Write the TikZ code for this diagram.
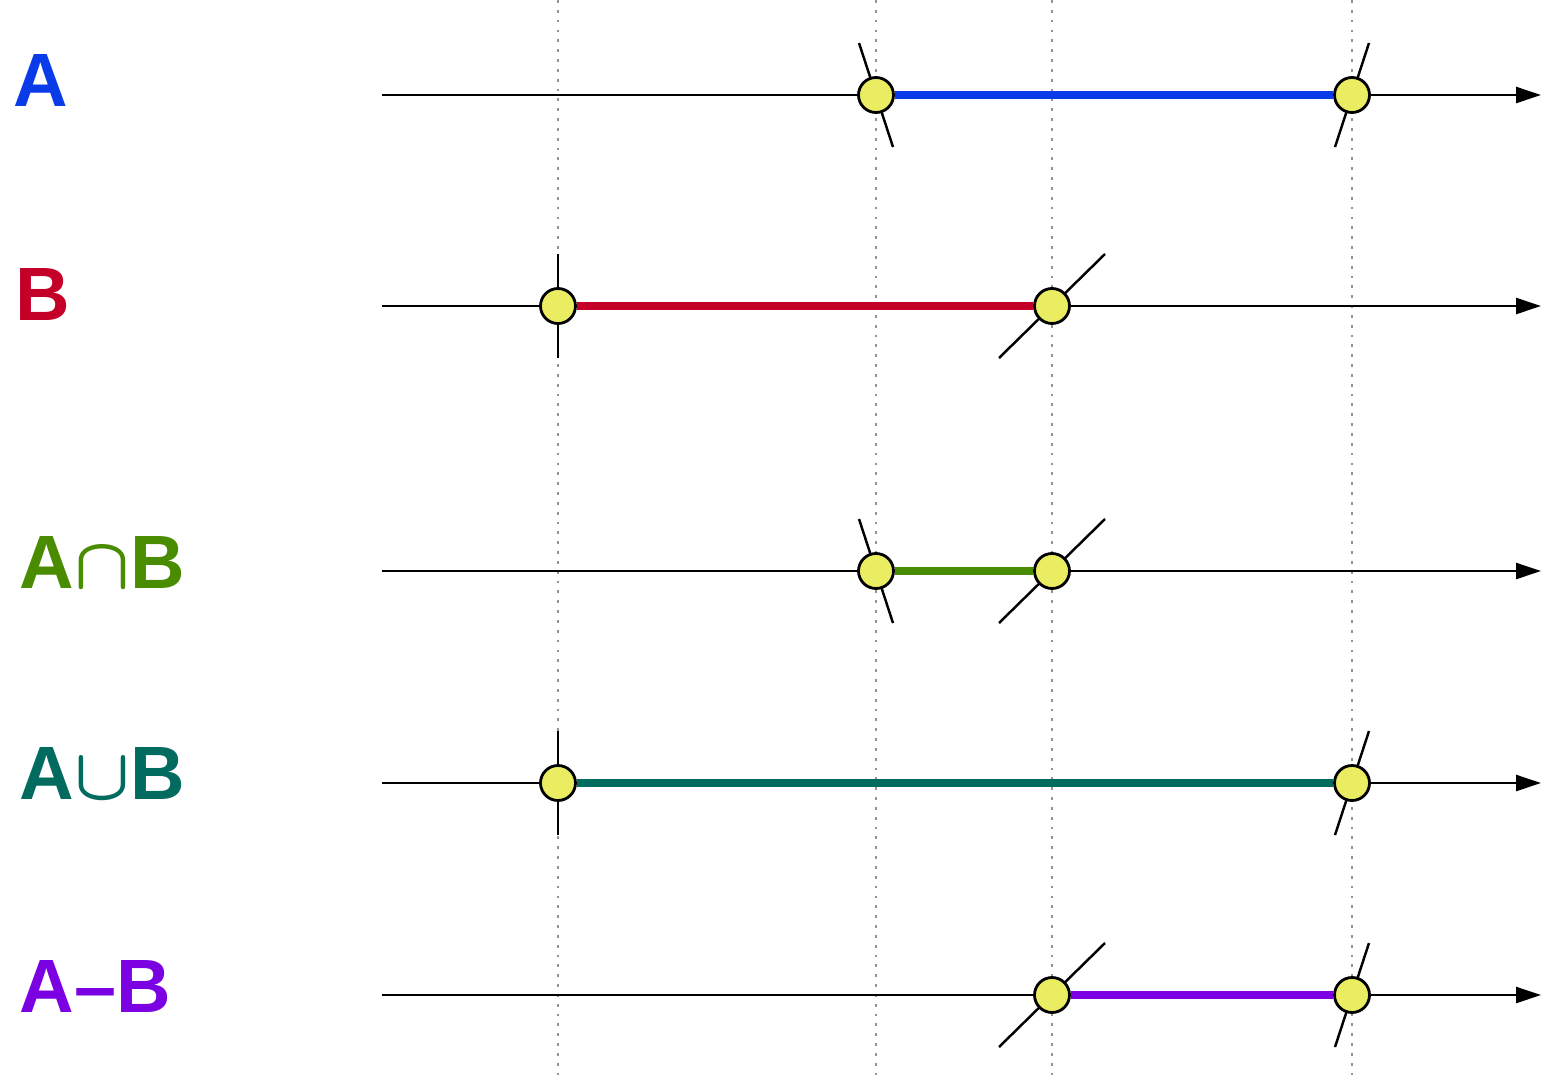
\documentclass[tikz,border=0pt]{standalone}
\usepackage{fontspec}
\setmainfont{Liberation Sans}
\usetikzlibrary{arrows.meta,calc,backgrounds}
\definecolor{setA}{HTML}{0A3BE8}
\definecolor{setB}{HTML}{C40028}
\definecolor{setAnB}{HTML}{4A8C00}
\definecolor{setAuB}{HTML}{006B5E}
\definecolor{setAmB}{HTML}{7B00E2}
\definecolor{ptyellow}{HTML}{EAEC62}
\tikzset{
  axis/.style={line width=0.7pt,-{Triangle[length=2.5mm,width=1.6mm]}},
  guide/.style={draw=gray!85,line width=0.8pt,dotted},
  endpt/.style={circle,draw,line width=0.8pt,fill=ptyellow,minimum size=3.5mm,inner sep=0pt},
  span/.style={line width=2.3pt},
  cut/.style={line width=0.7pt},
  setlabel/.style={anchor=base west,inner sep=0pt,font=\fontsize{21.5}{24}\selectfont\bfseries},
}
% tick through an end point: #1 node, #2 horizontal shift of its upper end
\newcommand{\cutmark}[2]{\draw[cut] ($(#1)+(#2,0.52)$) -- ($(#1)+(-#2,-0.52)$);}

\begin{document}
\begin{tikzpicture}
  \useasboundingbox (0,0) rectangle (15.41,-10.82);

  % labels
  \node[setlabel,text=setA] (labA) at (0.13,-1.06) {A};
  \node[setlabel,text=setB] (labB) at (0.15,-3.20) {B};
  \node[setlabel,text=setAnB] (labAnB) at (0.19,-5.88) {A{\boldmath\(\cap\)}B};
  \node[setlabel,text=setAuB] (labAuB) at (0.19,-7.99) {A{\boldmath\(\cup\)}B};
  \node[setlabel,text=setAmB] (labAmB) at (0.19,-10.12) {A\textendash B};

  % end points
  \node[endpt] (a1) at (8.76,-0.95) {};
  \node[endpt] (a2) at (13.52,-0.95) {};
  \node[endpt] (b1) at (5.58,-3.06) {};
  \node[endpt] (b2) at (10.52,-3.06) {};
  \node[endpt] (n1) at (8.76,-5.71) {};
  \node[endpt] (n2) at (10.52,-5.71) {};
  \node[endpt] (u1) at (5.58,-7.83) {};
  \node[endpt] (u2) at (13.52,-7.83) {};
  \node[endpt] (m1) at (10.52,-9.95) {};
  \node[endpt] (m2) at (13.52,-9.95) {};

  \begin{scope}[on background layer]
    \foreach \x/\g in {5.58/g1,8.76/g2,10.52/g3,13.52/g4} {
      \coordinate (\g top) at (\x,0);
      \coordinate (\g bot) at (\x,-10.82);
      \draw[guide] (\g top) -- (\g bot);
    }
    \foreach \r/\y in {rA/-0.95,rB/-3.06,rN/-5.71,rU/-7.83,rM/-9.95} {
      \coordinate (\r s) at (3.82,\y);
      \coordinate (\r e) at (15.41,\y);
      \draw[axis] (\r s) -- (\r e);
    }
    \draw[span,setA] (a1) -- (a2);
    \draw[span,setB] (b1) -- (b2);
    \draw[span,setAnB] (n1) -- (n2);
    \draw[span,setAuB] (u1) -- (u2);
    \draw[span,setAmB] (m1) -- (m2);
    \cutmark{a1}{-0.17} \cutmark{a2}{0.17}
    \cutmark{b1}{0} \cutmark{b2}{0.53}
    \cutmark{n1}{-0.17} \cutmark{n2}{0.53}
    \cutmark{u1}{0} \cutmark{u2}{0.17}
    \cutmark{m1}{0.53} \cutmark{m2}{0.17}
  \end{scope}
\end{tikzpicture}
\end{document}
